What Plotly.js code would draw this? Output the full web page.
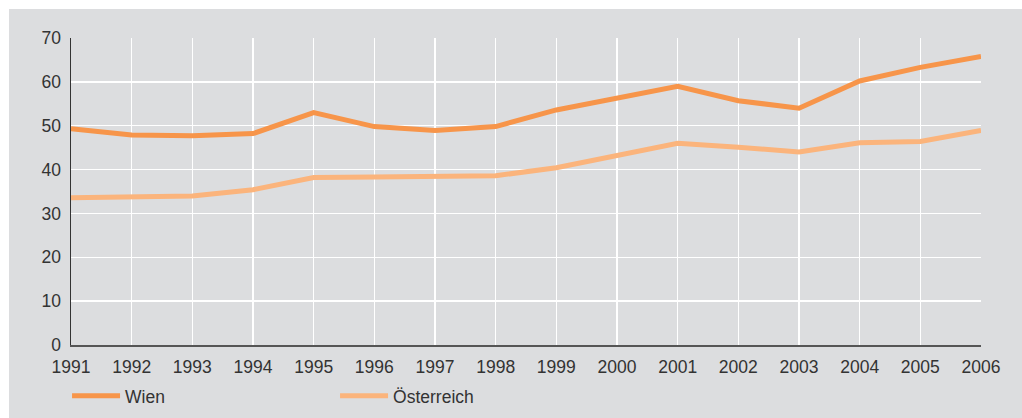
<!DOCTYPE html>
<html>
<head>
<meta charset="utf-8">
<script src="https://cdn.plot.ly/plotly-3.0.1.min.js"></script>
<style>
html,body{margin:0;padding:0;background:#ffffff;}
#chart{position:absolute;left:9px;top:9px;width:1013px;height:409px;}
</style>
</head>
<body>
<div id="chart"></div>
<script>
var years = [1991,1992,1993,1994,1995,1996,1997,1998,1999,2000,2001,2002,2003,2004,2005,2006];
var wien = [49.3,47.9,47.7,48.2,53.0,49.8,48.9,49.8,53.6,56.3,59.0,55.7,54.0,60.2,63.3,65.8];
var oesterreich = [33.6,33.7,34.0,35.4,38.2,38.3,38.5,38.6,40.4,43.2,46.0,45.1,44.0,46.1,46.4,48.9];
var yTicks = [0,10,20,30,40,50,60,70];

var font = {family:'"Liberation Sans", Arial, Helvetica, sans-serif', size:17.5, color:'#333333'};

var data = [
  {x:years, y:wien, name:'Wien', mode:'lines', type:'scatter',
   line:{color:'#F7954A', width:5}},
  {x:years, y:oesterreich, name:'Österreich', mode:'lines', type:'scatter',
   line:{color:'#FBB47C', width:5}}
];

var layout = {
  width:1013, height:409,
  paper_bgcolor:'#DCDDDF', plot_bgcolor:'#DCDDDF',
  margin:{l:62, r:41, t:29, b:73},
  font:font,
  showlegend:true,
  legend:{orientation:'h', xref:'container', yref:'container',
          x:0.0573, xanchor:'left', y:0.0538, yanchor:'middle',
          bgcolor:'rgba(0,0,0,0)', font:font, entrywidth:205, entrywidthmode:'pixels',
          itemwidth:48, traceorder:'normal'},
  xaxis:{range:[1991,2006], tickvals:years, ticktext:years.map(String),
         showgrid:true, gridcolor:'#ffffff', gridwidth:1.3,
         showline:true, linecolor:'#555555', linewidth:1.5,
         ticks:'', ticklabelstandoff:5, zeroline:false, fixedrange:true, automargin:false},
  yaxis:{range:[0,70], tickvals:yTicks,
         showgrid:true, gridcolor:'#ffffff', gridwidth:1.3,
         showline:true, linecolor:'#333333', linewidth:1.5,
         ticks:'', ticklabelstandoff:5, zeroline:false, fixedrange:true, automargin:false}
};

Plotly.newPlot('chart', data, layout, {displayModeBar:false, staticPlot:true});
</script>
</body>
</html>
